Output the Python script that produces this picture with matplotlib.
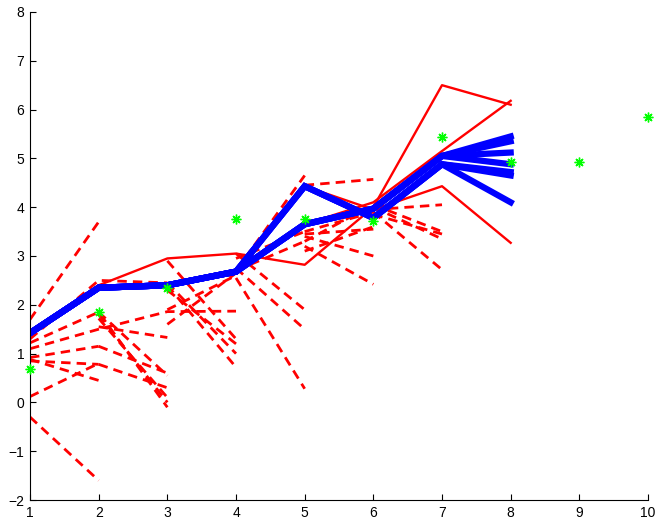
import numpy as np
import matplotlib
matplotlib.use("Agg")
import matplotlib.pyplot as plt

plt.rcParams['font.family'] = ['Liberation Sans', 'DejaVu Sans']

# observed values
obs_x = [1, 2, 3, 4, 5, 6, 7, 8, 9, 10]
obs_y = [0.68, 1.86, 2.35, 3.75, 3.76, 3.72, 5.43, 4.92, 4.92, 5.84]

# two smoothed paths, then the fan of final steps from x=7 to x=8
blue_path_a = [1.42, 2.35, 2.40, 2.68, 3.65, 3.97, 5.05]
blue_path_b = [1.42, 2.35, 2.40, 2.68, 4.43, 3.78, 4.88]
blue_end_a = [5.45, 5.35, 5.12, 4.88]
blue_end_b = [4.72, 4.65, 4.10]

# solid red trajectories over x=1..8
red_solid = [
    [1.42, 2.40, 2.95, 3.05, 2.82, 4.00, 6.50, 6.10],
    [1.42, 2.35, 2.40, 2.68, 3.65, 4.10, 5.15, 6.18],
    [1.42, 2.35, 2.40, 2.68, 4.43, 3.95, 4.43, 3.27],
]

# dashed red short-horizon predictions: start x and values
dash_x0 = [1, 1, 1, 1, 1, 1, 1, 1, 1,
           2, 2, 2, 2, 2, 2,
           3, 3, 3, 3, 3, 3,
           4, 4, 4, 4, 4, 4,
           5, 5, 5, 5, 5, 5, 5,
           6, 6, 6, 6, 6]
dash_y = [
    [1.70, 3.70], [1.30, 2.50, 2.45], [1.22, 1.85, -0.10], [1.10, 1.50, 1.86, 1.87],
    [0.92, 1.15], [0.85, 0.78], [0.88, 0.45], [0.12, 0.80], [-0.30, -1.60],
    [1.80, 0.00], [1.72, 0.10], [1.85, 0.55], [1.15, 0.60], [1.55, 1.33], [0.78, 0.30],
    [2.90, 1.30], [2.45, 1.00], [2.40, 0.72], [2.30, 1.20], [1.90, 2.60], [1.60, 2.65],
    [2.70, 4.65], [2.55, 0.28], [2.75, 1.50], [3.05, 1.90], [2.70, 3.30], [2.95, 3.50],
    [4.45, 4.57], [3.40, 3.00], [3.20, 2.42], [3.30, 4.05], [3.50, 3.90], [3.10, 3.60], [3.45, 3.55],
    [3.90, 2.72], [4.00, 3.35], [3.95, 4.05], [4.05, 3.50], [3.85, 3.45],
]

fig = plt.figure(figsize=(6.57, 5.19), dpi=100)
ax = fig.add_axes([0.0457, 0.0366, 0.9406, 0.9403])

for x0, ys in zip(dash_x0, dash_y):
    xs = np.arange(x0, x0 + len(ys))
    ax.plot(xs, ys, color='red', lw=2.0, dashes=(3.4, 2.2))

xs8 = np.arange(1, 9)
for ys in red_solid:
    ax.plot(xs8, ys, color='red', lw=1.7)

for end in blue_end_a:
    ax.plot(xs8, blue_path_a + [end], color='blue', lw=4.5,
            solid_joinstyle='miter')
for end in blue_end_b:
    ax.plot(xs8, blue_path_b + [end], color='blue', lw=4.5,
            solid_joinstyle='miter')

ax.plot(obs_x, obs_y, linestyle='none', marker=(8, 2, 0), markersize=7,
        markeredgewidth=1.0, color='#00ff00', clip_on=False, zorder=5)

ax.set_xlim(1, 10)
ax.set_ylim(-2, 8)
ax.set_xticks(range(1, 11))
ax.set_yticks(range(-2, 9))
ax.spines['top'].set_visible(False)
ax.spines['right'].set_visible(False)
ax.tick_params(direction='in', length=4, labelsize=10, pad=4)

fig.savefig('out.png', dpi=100)
